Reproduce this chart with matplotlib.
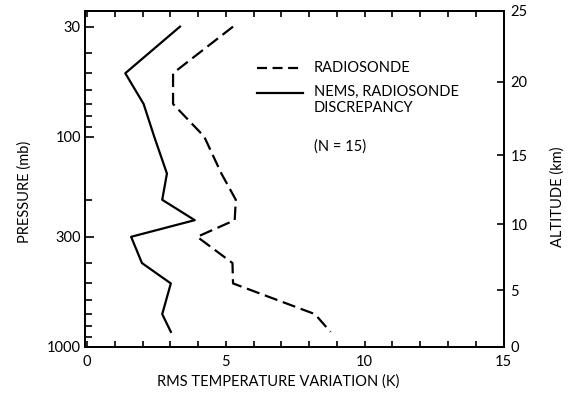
import numpy as np
import matplotlib
matplotlib.use('Agg')
import matplotlib.pyplot as plt
from matplotlib.ticker import FixedLocator, NullFormatter

plt.rcParams['font.family'] = ['Lato', 'DejaVu Sans']

# pressure levels (mb) and rms temperature variation (K)
pressure = [30, 50, 70, 100, 150, 200, 250, 300, 400, 500, 700, 850]
radiosonde = [5.26, 3.10, 3.10, 4.22, 4.84, 5.36, 5.32, 3.97, 5.24, 5.26, 8.21, 8.77]
nems_disc = [3.35, 1.38, 2.04, 2.42, 2.88, 2.71, 3.88, 1.59, 1.98, 3.02, 2.71, 3.02]

p_major = [30, 100, 300, 1000]
p_minor = [40, 50, 60, 70, 80, 90, 200, 400, 500, 600, 700, 800, 900]
# altitude scale (km) and matching pressure (mb)
alt_km = [0, 5, 10, 15, 20, 25]
alt_p = [1000, 540, 262, 123, 55, 25.2]

fig = plt.figure(figsize=(5.71, 3.98), dpi=100)
ax = fig.add_axes([0.1489, 0.1289, 0.7329, 0.8442])

ax.plot(radiosonde, pressure, color='black', lw=1.6, dashes=(6, 2.6))
ax.plot(nems_disc, pressure, color='black', lw=1.6)

ax.set_yscale('log')
ax.set_ylim(1000, 25.2)
ax.set_xlim(-0.07, 15)
ax.yaxis.set_major_locator(FixedLocator(p_major))
ax.set_yticklabels([str(p) for p in p_major])
ax.yaxis.set_minor_locator(FixedLocator(p_minor))
ax.yaxis.set_minor_formatter(NullFormatter())
ax.set_xticks([0, 5, 10, 15])
ax.xaxis.set_minor_locator(FixedLocator(np.arange(0, 16, 1)))

ax.tick_params(axis='both', which='both', direction='in', labelsize=10.5, width=1.2)
ax.tick_params(axis='y', which='major', length=6.5, pad=3)
ax.tick_params(axis='y', which='minor', length=5)
ax.tick_params(axis='x', which='both', length=4.5, top=True, pad=6)
for s in ax.spines.values():
    s.set_linewidth(1.3)

ax.set_xlabel('RMS TEMPERATURE VARIATION (K)', fontsize=10.5)
ax.xaxis.set_label_coords(0.461, -0.082)
ax.set_ylabel('PRESSURE (mb)', fontsize=10.5)
ax.yaxis.set_label_coords(-0.128, 0.46)

ax2 = ax.twinx()
ax2.set_yscale('log')
ax2.set_ylim(ax.get_ylim())
ax2.yaxis.set_major_locator(FixedLocator(alt_p))
ax2.set_yticklabels([str(a) for a in alt_km])
ax2.yaxis.set_minor_locator(FixedLocator([]))
ax2.tick_params(axis='y', direction='in', length=5, width=1.2, labelsize=10.5, pad=5)
ax2.set_ylabel('ALTITUDE (km)', fontsize=10.5)
ax2.yaxis.set_label_coords(1.113, 0.445)
for s in ax2.spines.values():
    s.set_linewidth(1.3)

# key
ax.plot([0.410, 0.521], [0.829, 0.829], transform=ax.transAxes, color='black', lw=1.6, dashes=(4.5, 2.5))
ax.plot([0.410, 0.521], [0.756, 0.756], transform=ax.transAxes, color='black', lw=1.6)
ax.text(0.547, 0.829, 'RADIOSONDE', transform=ax.transAxes, va='center', fontsize=10.5)
ax.text(0.547, 0.758, 'NEMS, RADIOSONDE', transform=ax.transAxes, va='center', fontsize=10.5)
ax.text(0.547, 0.710, 'DISCREPANCY', transform=ax.transAxes, va='center', fontsize=10.5)
ax.text(0.547, 0.595, '(N = 15)', transform=ax.transAxes, va='center', fontsize=10.5)

fig.savefig('out.png', dpi=100)
